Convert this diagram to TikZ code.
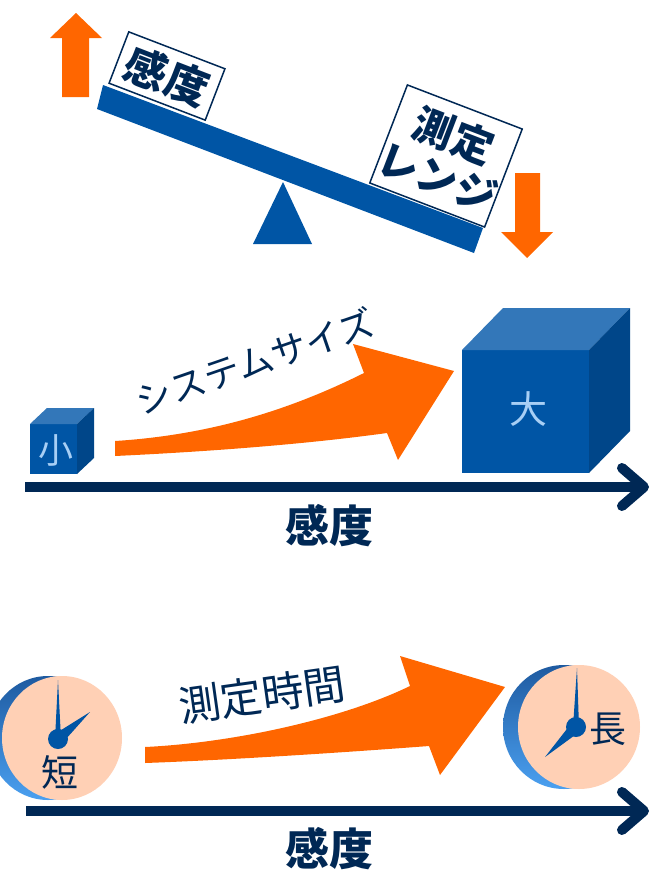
\documentclass[tikz,border=0pt]{standalone}
\usepackage{fontspec}
\setmainfont{Noto Sans CJK JP}
\usetikzlibrary{calc}
\definecolor{orng}{RGB}{255,102,0}
\definecolor{beamblue}{RGB}{0,85,165}
\definecolor{navy}{RGB}{0,40,85}
\definecolor{cubetop}{RGB}{51,119,185}
\definecolor{cubeside}{RGB}{0,70,137}
\definecolor{cubetext}{RGB}{168,207,245}
\definecolor{peach}{RGB}{255,208,181}
\definecolor{rimdark}{RGB}{30,90,160}
\definecolor{rimlight}{RGB}{75,160,240}
\begin{document}
\begin{tikzpicture}[x=1pt,y=-1pt,
  weightbox/.style={draw=navy, line width=1.5pt, fill=white, rotate=-21,
    inner sep=0pt, text=navy, align=center},
  axisline/.style={navy, line width=10pt},
  chevron/.style={navy, line width=10pt, line cap=round, line join=round},
  axislabel/.style={text=navy, inner sep=0pt, font=\fontsize{44}{46}\selectfont\bfseries},
  slantlabel/.style={text=navy, inner sep=0pt},
  cubelabel/.style={text=cubetext, inner sep=0pt},
  clocklabel/.style={text=navy, inner sep=0pt, font=\fontsize{37}{40}\selectfont},
  bigarrow/.style={fill=orng},
  hand/.style={fill=beamblue}]
\useasboundingbox (0,0) rectangle (651,870);

% ---------- seesaw ----------
% up arrow (left) and down arrow (right)
\fill[orng] (62,97) -- (62,38) -- (50,38) -- (76,13) -- (102,38) -- (89,38) -- (89,97) -- cycle;
\fill[orng] (515,173) -- (540,173) -- (540,232) -- (553,232) -- (527,258) -- (501,232) -- (515,232) -- cycle;
% fulcrum
\fill[beamblue] (283,182) -- (312,244) -- (253,244) -- cycle;
% weights
\node[weightbox, minimum width=103pt, minimum height=55pt,
  font=\fontsize{43}{46}\selectfont\bfseries] (sens) at (167,76) {感度};
\node[weightbox, minimum width=115pt, minimum height=105pt,
  font=\fontsize{41}{45}\selectfont\bfseries] (range) at (446,156) {測定\\レンジ};
% beam
\fill[beamblue] (103,85) -- (483,228) -- (474,253) -- (97,109) -- cycle;

% ---------- system size ----------
% small cube
\fill[beamblue] (30,424) rectangle (77,474);
\fill[cubetop] (30,424) -- (77,424) -- (94,408) -- (47,408) -- cycle;
\fill[cubeside] (77,424) -- (94,408) -- (94,458) -- (77,474) -- cycle;
\node[cubelabel, font=\fontsize{35}{38}\selectfont] (small) at (56,450) {小};
% large cube
\fill[beamblue] (462,350) rectangle (589,473);
\fill[cubetop] (462,350) -- (589,350) -- (630,308) -- (503,308) -- cycle;
\fill[cubeside] (589,350) -- (630,308) -- (630,431) -- (589,473) -- cycle;
\node[cubelabel, font=\fontsize{38}{40}\selectfont] (large) at (528,409) {大};
% curved arrow
\fill[bigarrow] (115,441) .. controls (210,435) and (290,410) .. (364,373)
  -- (353,344) -- (454,371) -- (398,460) -- (387,433)
  .. controls (300,445) and (200,452) .. (115,456) -- cycle;
\node[slantlabel, rotate=19, font=\fontsize{36}{40}\selectfont] (sizelbl) at (255,361) {システムサイズ};
% axis
\coordinate (ax1s) at (25,487);
\coordinate (ax1e) at (644,487);
\draw[axisline] (ax1s) -- (ax1e);
\draw[chevron] ($(ax1e)+(-22,-19)$) -- (ax1e) -- ($(ax1e)+(-22,19)$);
\node[axislabel] (ax1lbl) at (329,526) {感度};

% ---------- measuring time ----------
% short clock
\shade[top color=rimdark, bottom color=rimlight] (48,738) ellipse [x radius=60, y radius=62];
\fill[peach] (62,738) ellipse [x radius=60, y radius=62];
\coordinate (hubL) at (58,739);
\coordinate (minL) at (58,680);
\coordinate (hrL) at (90,712);
\fill[hand] ($(hubL)!3pt!90:(minL)$) -- (minL) -- ($(hubL)!3pt!-90:(minL)$) -- cycle;
\fill[hand] ($(hubL)!6pt!90:(hrL)$) -- (hrL) -- ($(hubL)!6pt!-90:(hrL)$) -- cycle;
\fill[hand] (hubL) circle [radius=10];
\node[clocklabel] (shortlbl) at (60,772) {短};
% long clock
\shade[top color=rimdark, bottom color=rimlight] (564,727) ellipse [x radius=61, y radius=62];
\fill[peach] (579,727) ellipse [x radius=61, y radius=62];
\coordinate (hubR) at (576,727);
\coordinate (minR) at (577,668);
\coordinate (hrR) at (545,757);
\fill[hand] ($(hubR)!3pt!90:(minR)$) -- (minR) -- ($(hubR)!3pt!-90:(minR)$) -- cycle;
\fill[hand] ($(hubR)!6pt!90:(hrR)$) -- (hrR) -- ($(hubR)!6pt!-90:(hrR)$) -- cycle;
\fill[hand] (hubR) circle [radius=10];
\node[clocklabel] (longlbl) at (608,729) {長};
% curved arrow
\fill[bigarrow] (145,747) .. controls (230,743) and (340,720) .. (410,686)
  -- (400,656) -- (505,687) -- (440,775) -- (429,746)
  .. controls (350,752) and (230,760) .. (145,763) -- cycle;
\node[slantlabel, rotate=8, font=\fontsize{42}{44}\selectfont] (timelbl) at (262,695) {測定時間};
% axis
\coordinate (ax2s) at (26,811);
\coordinate (ax2e) at (644,811);
\draw[axisline] (ax2s) -- (ax2e);
\draw[chevron] ($(ax2e)+(-22,-19)$) -- (ax2e) -- ($(ax2e)+(-22,19)$);
\node[axislabel] (ax2lbl) at (329,849) {感度};
\end{tikzpicture}
\end{document}
